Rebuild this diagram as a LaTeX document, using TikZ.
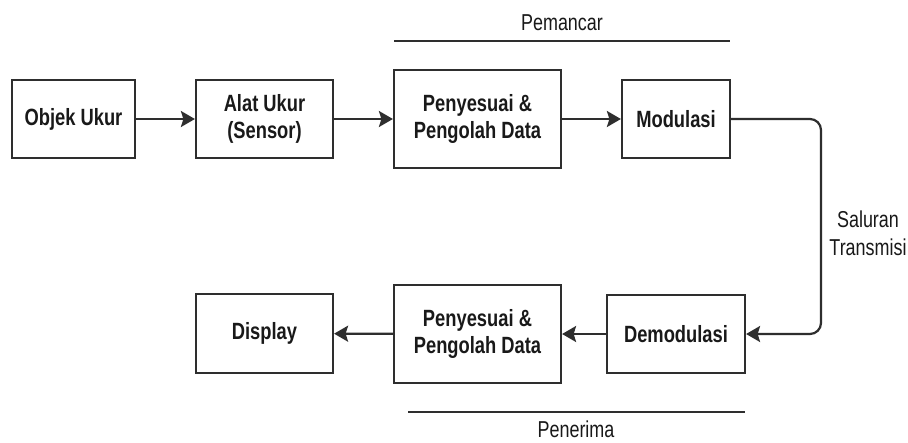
\documentclass[tikz,border=0pt]{standalone}
\usepackage{fontspec}
\setmainfont{Liberation Sans}[FakeStretch=0.78]
\usetikzlibrary{arrows.meta}
\definecolor{ln}{HTML}{2E2E2E}
\begin{document}
\begin{tikzpicture}[x=1pt,y=-1pt,
  blk/.style={draw=ln,line width=2.2pt,align=center,inner sep=0pt,
    font=\fontsize{23.5}{27}\selectfont\bfseries,text=black!90},
  lbl/.style={align=center,inner sep=0pt,font=\fontsize{23}{28}\selectfont,text=black!90},
  arr/.style={draw=ln,line width=2.2pt,-{Stealth[length=14pt,width=16pt,inset=2.5pt]}},
  bar/.style={draw=ln,line width=2.2pt}]
\useasboundingbox[fill=white] (0,0) rectangle (908,442);
\node[blk,minimum width=123pt,minimum height=78pt] (obj) at (73.5,119) {Objek Ukur};
\node[blk,minimum width=137pt,minimum height=78pt] (alat) at (264.5,119) {Alat Ukur\\(Sensor)};
\node[blk,minimum width=167pt,minimum height=98pt] (pen1) at (477.5,119) {Penyesuai \&\\Pengolah Data};
\node[blk,minimum width=108pt,minimum height=78pt] (mod) at (676,119) {Modulasi};
\node[blk,minimum width=137pt,minimum height=79pt] (disp) at (264.5,333.5) {Display};
\node[blk,minimum width=167pt,minimum height=98pt] (pen2) at (477.5,334) {Penyesuai \&\\Pengolah Data};
\node[blk,minimum width=138pt,minimum height=78pt] (demod) at (676,334) {Demodulasi};
\draw[arr] (obj) -- (alat);
\draw[arr] (alat) -- (pen1);
\draw[arr] (pen1) -- (mod);
\coordinate (c1) at (821,119);
\coordinate (c2) at (821,334);
\draw[arr,rounded corners=11pt] (mod.east) -- (c1) -- (c2) -- (demod.east);
\draw[arr] (demod) -- (pen2);
\draw[arr] (pen2) -- (disp);
\coordinate (pm1) at (394,41);
\coordinate (pm2) at (730,41);
\draw[bar] (pm1) -- (pm2);
\node[lbl] (pemancar) at (562,23) {Pemancar};
\coordinate (pn1) at (408,412);
\coordinate (pn2) at (745,412);
\draw[bar] (pn1) -- (pn2);
\node[lbl] (penerima) at (576,429) {Penerima};
\node[lbl] (sal) at (868,233) {Saluran\\Transmisi};
\end{tikzpicture}
\end{document}
